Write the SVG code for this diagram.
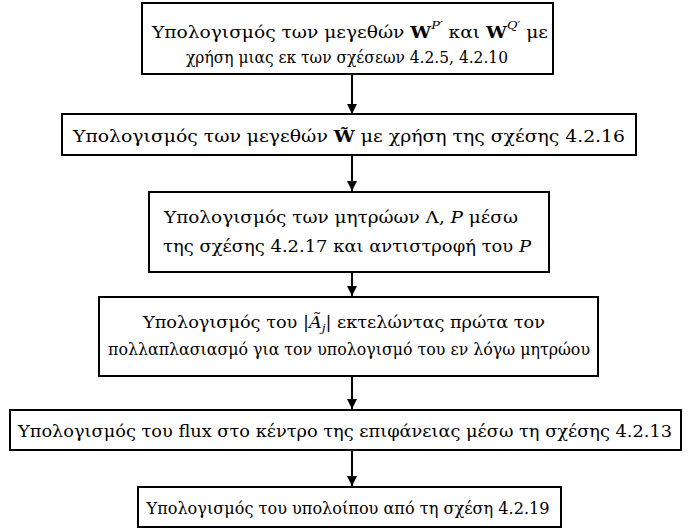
<svg xmlns="http://www.w3.org/2000/svg" width="691" height="529" viewBox="0 0 691 529">
<style>
.box{fill:#fff;stroke:#000;stroke-width:2}
.t{font-family:"DejaVu Serif","Liberation Serif",serif;font-size:16px;fill:#000;text-anchor:middle}
.b{font-weight:bold}
.i{font-style:italic}
.sup{font-size:11px}
.con{stroke:#000;stroke-width:2;fill:none}
</style>
<defs>
<marker id="arr" viewBox="0 0 10 10" refX="10" refY="5" markerWidth="5" markerHeight="5" orient="auto" markerUnits="strokeWidth">
<path d="M0,0 L10,5 L0,10 z" fill="#000"/>
</marker>
</defs>
<rect width="691" height="529" fill="#fff"/>
<g id="connectors">
<line class="con" x1="352" y1="74" x2="352" y2="114" marker-end="url(#arr)"/>
<line class="con" x1="352" y1="155" x2="352" y2="191" marker-end="url(#arr)"/>
<line class="con" x1="352" y1="272" x2="352" y2="296" marker-end="url(#arr)"/>
<line class="con" x1="352" y1="376" x2="352" y2="409" marker-end="url(#arr)"/>
<line class="con" x1="352" y1="450" x2="352" y2="486" marker-end="url(#arr)"/>
</g>
<g id="n1">
<rect class="box" x="142" y="3" width="411" height="71"/>
<text class="t" x="350" y="38" textLength="396" lengthAdjust="spacingAndGlyphs">Υπολογισμός των μεγεθών <tspan class="b">W</tspan><tspan class="i sup" dy="-9">P′</tspan><tspan dy="9"> και </tspan><tspan class="b">W</tspan><tspan class="i sup" dy="-9">Q′</tspan><tspan dy="9"> με</tspan></text>
<text class="t" x="347" y="63" textLength="322" lengthAdjust="spacingAndGlyphs">χρήση μιας εκ των σχέσεων 4.2.5, 4.2.10</text>
</g>
<g id="n2">
<rect class="box" x="62" y="114" width="574" height="41"/>
<text class="t" x="349" y="142" textLength="552" lengthAdjust="spacingAndGlyphs">Υπολογισμός των μεγεθών <tspan class="b">W̃</tspan> με χρήση της σχέσης 4.2.16</text>
</g>
<g id="n3">
<rect class="box" x="149" y="192" width="400" height="80"/>
<text class="t" x="341" y="223" textLength="354" lengthAdjust="spacingAndGlyphs">Υπολογισμός των μητρώων Λ, <tspan class="i">P</tspan> μέσω</text>
<text class="t" x="347" y="252" textLength="368" lengthAdjust="spacingAndGlyphs">της σχέσης 4.2.17 και αντιστροφή του <tspan class="i">P</tspan></text>
</g>
<g id="n4">
<rect class="box" x="99" y="297" width="499" height="79"/>
<text class="t" x="344" y="328" textLength="402" lengthAdjust="spacingAndGlyphs">Υπολογισμός του |<tspan class="i">Ã</tspan><tspan class="i sup" dy="4">j</tspan><tspan dy="-4">|</tspan> εκτελώντας πρώτα τον</text>
<text class="t" x="349" y="355" textLength="482" lengthAdjust="spacingAndGlyphs">πολλαπλασιασμό για τον υπολογισμό του εν λόγω μητρώου</text>
</g>
<g id="n5">
<rect class="box" x="10" y="410" width="671" height="40"/>
<text class="t" x="345" y="437" textLength="654" lengthAdjust="spacingAndGlyphs">Υπολογισμός του flux στο κέντρο της επιφάνειας μέσω τη σχέσης 4.2.13</text>
</g>
<g id="n6">
<rect class="box" x="138" y="487" width="423" height="40"/>
<text class="t" x="348" y="514" textLength="403" lengthAdjust="spacingAndGlyphs">Υπολογισμός του υπολοίπου από τη σχέση 4.2.19</text>
</g>
</svg>
